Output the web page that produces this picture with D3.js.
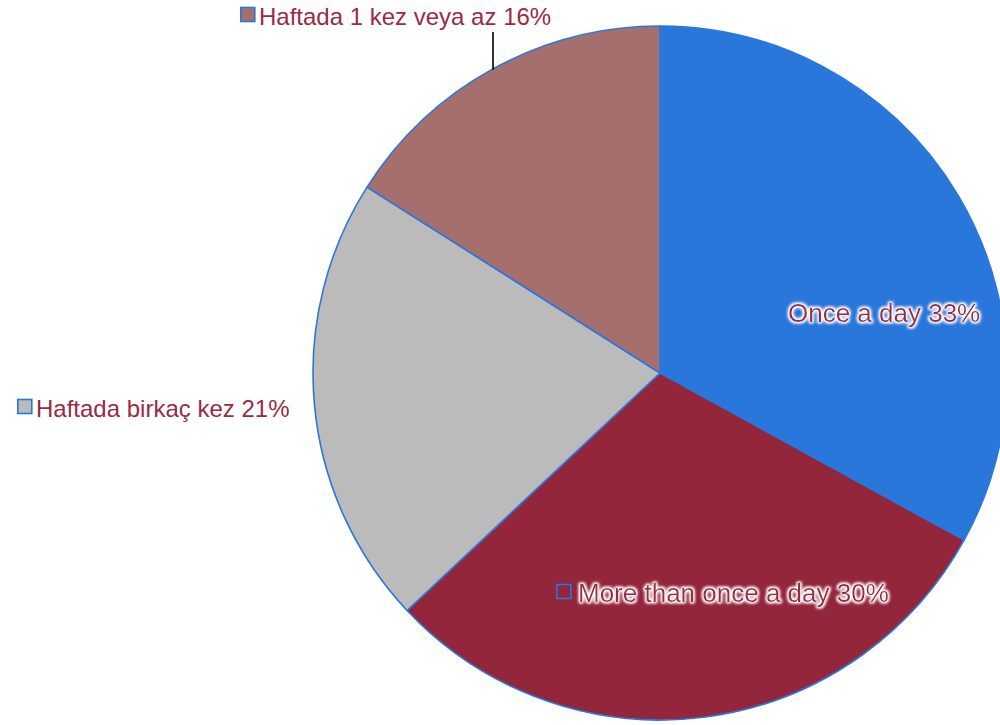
<!DOCTYPE html>
<html>
<head>
<meta charset="utf-8">
<script src="https://cdn.jsdelivr.net/npm/d3@7"></script>
<style>
html,body{margin:0;padding:0;background:#fff;}
svg{display:block;}
</style>
</head>
<body>
<svg id="chart" width="1000" height="725"></svg>
<script>
const categories = ["Once a day", "More than once a day", "Haftada birkaç kez", "Haftada 1 kez veya az"];
const values = [33, 30, 21, 16];
const colors = ["#2a77dc", "#93263b", "#bbbbbb", "#a56f6d"];

const W = 1000, H = 725;
const cx = 660, cy = 373, R = 347;
const svg = d3.select("#chart");

const defs = svg.append("defs");
const f = defs.append("filter").attr("id","halo").attr("x","-10%").attr("y","-40%").attr("width","120%").attr("height","180%");
f.append("feMorphology").attr("in","SourceAlpha").attr("operator","dilate").attr("radius",1.3).attr("result","d");
f.append("feGaussianBlur").attr("in","d").attr("stdDeviation",1.7).attr("result","b");
f.append("feFlood").attr("flood-color","#ffffff").attr("result","w");
f.append("feComposite").attr("in","w").attr("in2","b").attr("operator","in").attr("result","h");
const fm = f.append("feMerge");
fm.append("feMergeNode").attr("in","h");
fm.append("feMergeNode").attr("in","h");
fm.append("feMergeNode").attr("in","SourceGraphic");

const data = categories.map((c,i)=>({cat:c, value:values[i], color:colors[i]}));
const pie = d3.pie().value(d=>d.value).sort(null);
const arc = d3.arc().innerRadius(0).outerRadius(R);
const arcs = pie(data);

const g = svg.append("g").attr("transform",`translate(${cx},${cy})`);
g.selectAll("path").data(arcs).join("path")
  .attr("d", arc)
  .attr("fill", d=>d.data.color)
  .attr("stroke", "#2a77dc")
  .attr("stroke-width", 1.6)
  .attr("stroke-linejoin","round");

const labelPos = [
  {sx: 767, ty: 322, halo: true,  fs: 26, gap: 21},
  {sx: 556, ty: 602, halo: true,  fs: 26, gap: 22},
  {sx: 17,  ty: 417, halo: false, fs: 24, gap: 19},
  {sx: 240, ty: 25,  halo: false, fs: 24, gap: 19}
];

// leader line for the small top slice
svg.append("line")
  .attr("x1", 493).attr("x2", 493)
  .attr("y1", 32).attr("y2", cy - Math.sqrt(R*R - (493-cx)*(493-cx)) + 1)
  .attr("stroke","#000").attr("stroke-width",1.6);

const lg = svg.append("g");
arcs.forEach((d,i)=>{
  const p = labelPos[i];
  lg.append("rect")
    .attr("x", p.sx + 0.8).attr("y", p.ty - 17.5)
    .attr("width", 14).attr("height", 14)
    .attr("fill", d.data.color)
    .attr("stroke", "#2a77dc").attr("stroke-width", 1.6);
  const t = lg.append("text")
    .attr("x", p.sx + p.gap).attr("y", p.ty)
    .attr("font-family", "'Liberation Sans', Arial, sans-serif")
    .attr("font-size", p.fs)
    .attr("fill", "#9b2a45")
    .text(`${d.data.cat} ${d.data.value}%`);
  if (p.halo) t.attr("filter","url(#halo)");
});
</script>
</body>
</html>
